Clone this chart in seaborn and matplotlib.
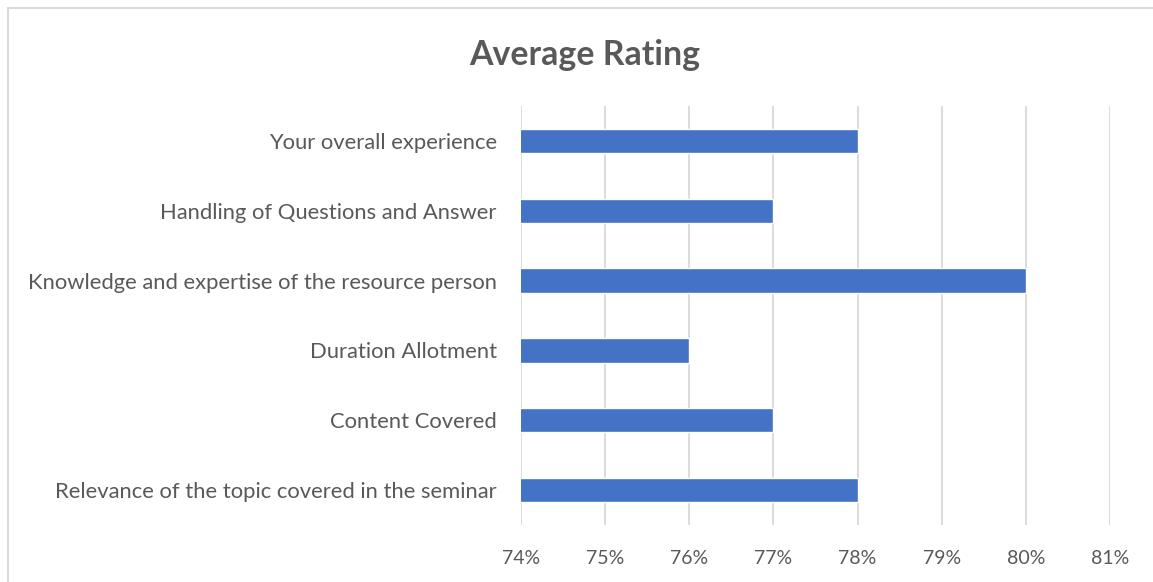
"""Average rating horizontal bar chart."""

import matplotlib.pyplot as plt
from matplotlib.lines import Line2D
import pandas as pd
import seaborn as sns

CATEGORIES = [
    'Your overall experience',
    'Handling of Questions and Answer',
    'Knowledge and expertise of the resource person',
    'Duration Allotment',
    'Content Covered',
    'Relevance of the topic covered in the seminar',
]
RATINGS = [78, 77, 80, 76, 77, 78]
X_TICKS = [74, 75, 76, 77, 78, 79, 80, 81]
X_TICK_LABELS = [f'{t}%' for t in X_TICKS]

TEXT_COLOR = '#595959'
BAR_COLOR = '#4472C4'
GRID_COLOR = '#D9D9D9'

sns.set_theme(style='white')
plt.rcParams['font.family'] = ['Lato', 'DejaVu Sans']

df = pd.DataFrame({'category': CATEGORIES, 'rating': RATINGS})

fig = plt.figure(figsize=(11.53, 5.82), dpi=100)
ax = fig.add_axes([521 / 1153, 1 - 525 / 582, 589 / 1153, 419 / 582])

sns.barplot(data=df, x='rating', y='category', orient='h', color=BAR_COLOR,
            width=0.35, saturation=1, ax=ax)

ax.set_xlim(74, 81)
ax.set_xticks(X_TICKS)
ax.set_xticklabels(X_TICK_LABELS)
ax.set_ylim(len(CATEGORIES) - 0.5, -0.5)
ax.set_xlabel('')
ax.set_ylabel('')
ax.xaxis.grid(True, color=GRID_COLOR, linewidth=1.3)
ax.set_axisbelow(True)
for side in ax.spines.values():
    side.set_visible(False)
ax.tick_params(axis='x', colors=TEXT_COLOR, labelsize=14, length=0, pad=18)
ax.tick_params(axis='y', colors=TEXT_COLOR, labelsize=15.8, length=0, pad=17.5)

fig.text(585 / 1153, 1 - 55 / 582, 'Average Rating', ha='center', va='center',
         fontsize=24.4, fontweight='bold', color=TEXT_COLOR)

# chart area border (top and left edges only are visible)
fig.add_artist(Line2D([7.5 / 1153, 1], [1 - 7.5 / 582] * 2, transform=fig.transFigure,
                      color=GRID_COLOR, linewidth=1.5))
fig.add_artist(Line2D([7.5 / 1153] * 2, [0, 1 - 7.5 / 582], transform=fig.transFigure,
                      color=GRID_COLOR, linewidth=1.5))

fig.savefig('out.png', dpi=100, facecolor='white')
